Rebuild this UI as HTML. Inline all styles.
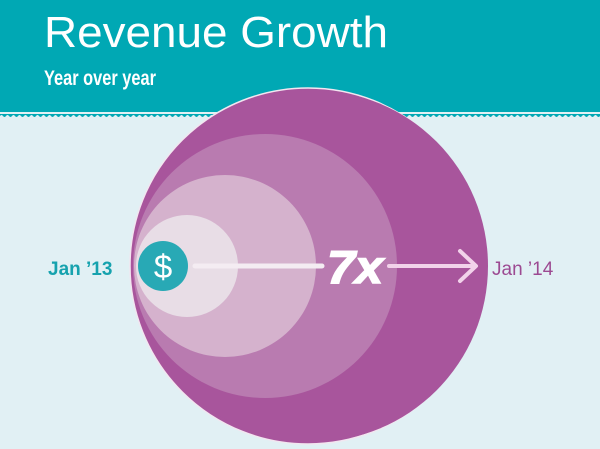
<!DOCTYPE html>
<html><head><style>
html,body{margin:0;padding:0;width:600px;height:449px;overflow:hidden;background:#e1f0f4}
svg{display:block}
</style></head><body>
<svg width="600" height="449" viewBox="0 0 600 449" xmlns="http://www.w3.org/2000/svg">
<defs>
<pattern id="wave" x="0" y="0" width="6" height="6" patternUnits="userSpaceOnUse">
<path d="M0 0 L6 0 L6 2 Q4.5 4 3 2 Q1.5 0 0 2 Z" fill="#00a8b4"/>
</pattern>
</defs>
<rect x="0" y="0" width="600" height="449" fill="#e1f0f4"/>
<rect x="0" y="0" width="600" height="112" fill="#00a8b4"/>
<rect x="0" y="112" width="600" height="6" fill="url(#wave)"/>
<text x="44" y="47" fill="#fff" font-family="Liberation Sans, sans-serif" font-size="44" textLength="344" lengthAdjust="spacingAndGlyphs">Revenue Growth</text>
<text x="44" y="85" fill="#fff" font-family="Liberation Sans, sans-serif" font-size="21" font-weight="bold" textLength="112" lengthAdjust="spacingAndGlyphs">Year over year</text>
<circle cx="308" cy="266" r="178" fill="#a8559c" stroke="#f2e6f0" stroke-width="1.5"/>
<circle cx="312" cy="266" r="176" fill="#a8559c"/>
<circle cx="265" cy="266" r="132" fill="#b97bb0"/>
<circle cx="225" cy="266" r="91" fill="#d5b2cd"/>
<circle cx="187" cy="266" r="51" fill="#e8dde6"/>
<circle cx="163" cy="266" r="25" fill="#28a9b5"/>
<text x="163" y="278" text-anchor="middle" fill="#fff" font-family="Liberation Sans, sans-serif" font-size="33">$</text>
<line x1="195" y1="266" x2="322" y2="266" stroke="#f4ecf2" stroke-width="5" stroke-linecap="round"/>
<text x="327" y="283" fill="#fff" stroke="#fff" stroke-width="1.5" font-family="Liberation Sans, sans-serif" font-size="46" font-weight="bold" font-style="italic" textLength="56" lengthAdjust="spacingAndGlyphs">7x</text>
<line x1="389" y1="266" x2="475" y2="266" stroke="#f2d2ea" stroke-width="4" stroke-linecap="round"/>
<polyline points="460,251 476,266 460,281" fill="none" stroke="#f2d2ea" stroke-width="4" stroke-linecap="round" stroke-linejoin="round"/>
<text x="48" y="275" fill="#16a2ae" font-family="Liberation Sans, sans-serif" font-size="19" font-weight="bold">Jan ’13</text>
<text x="492" y="275" fill="#9c4a92" font-family="Liberation Sans, sans-serif" font-size="19">Jan ’14</text>
</svg>
</body></html>
